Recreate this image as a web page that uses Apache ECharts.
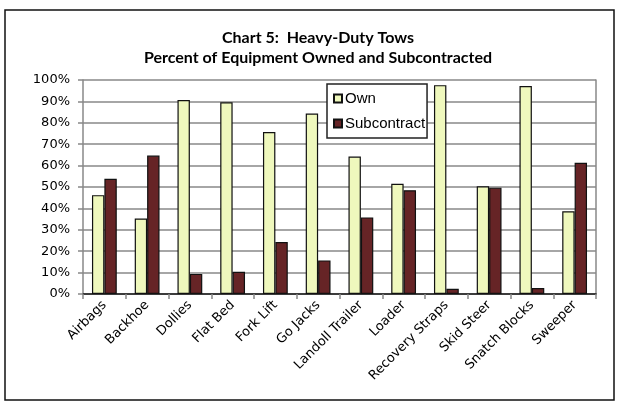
<!DOCTYPE html>
<html>
<head>
<meta charset="utf-8">
<script src="https://cdn.jsdelivr.net/npm/echarts@6/dist/echarts.min.js"></script>
<style>
  html, body { margin: 0; padding: 0; background: #fff; }
  #chart { width: 621px; height: 403px; }
</style>
</head>
<body>
<div id="chart"></div>
<script>
// Equipment categories for heavy-duty tows
const categories = ['Airbags', 'Backhoe', 'Dollies', 'Flat Bed', 'Fork Lift', 'Go Jacks',
  'Landoll Trailer', 'Loader', 'Recovery Straps', 'Skid Steer', 'Snatch Blocks', 'Sweeper'];
// Share of equipment owned (%)
const ownValues = [46.2, 35.3, 90.6, 89.6, 75.7, 84.3, 64.2, 51.5, 97.6, 50.3, 97.2, 38.7];
// Share of equipment subcontracted (%)
const subcontractValues = [53.8, 64.7, 9.4, 10.4, 24.3, 15.7, 35.8, 48.5, 2.4, 49.7, 2.8, 61.3];
// Value axis ticks
const yTicks = { min: 0, max: 100, interval: 10 };

const chart = echarts.init(document.getElementById('chart'));
const labelFont = 'DejaVu Sans';

chart.setOption({
  animation: false,
  title: {
    text: 'Chart 5:  Heavy-Duty Tows\nPercent of Equipment Owned and Subcontracted',
    left: 313,
    textAlign: 'center',
    top: 23,
    textStyle: {
      fontFamily: 'Lato',
      fontWeight: 'bold',
      fontSize: 16,
      lineHeight: 20,
      color: '#000'
    }
  },
  graphic: [{
    type: 'rect',
    shape: { x: 5, y: 10, width: 609, height: 390 },
    style: { fill: 'none', stroke: '#111', lineWidth: 1.5 },
    silent: true
  }],
  legend: {
    orient: 'vertical',
    left: 327,
    top: 84,
    itemWidth: 8,
    itemHeight: 8,
    itemGap: 10,
    padding: [7, 2, 7, 6],
    borderColor: '#222',
    borderWidth: 1.5,
    backgroundColor: '#fff',
    icon: 'rect',
    textStyle: { fontFamily: 'Liberation Sans', fontSize: 15, color: '#000', padding: [0, 0, 0, -2] },
    data: ['Own', 'Subcontract']
  },
  grid: { left: 83, right: 25, top: 80, bottom: 109 },
  xAxis: [{
    type: 'category',
    data: categories,
    axisLine: { lineStyle: { color: '#888', width: 1.5 } },
    axisTick: { show: true, length: 5, lineStyle: { color: '#888', width: 1.5 } },
    axisLabel: {
      rotate: 45,
      interval: 0,
      margin: 9,
      fontFamily: labelFont,
      fontSize: 13,
      color: '#000'
    }
  }, {
    type: 'category',
    position: 'top',
    data: categories,
    axisLine: { lineStyle: { color: '#222', width: 1.5 } },
    axisTick: { show: false },
    axisLabel: { show: false }
  }],
  yAxis: [{
    type: 'value',
    min: yTicks.min,
    max: yTicks.max,
    interval: yTicks.interval,
    axisLine: { show: true, lineStyle: { color: '#888', width: 1.5 } },
    axisTick: { show: true, length: 5, lineStyle: { color: '#888', width: 1.5 } },
    splitLine: { show: true, lineStyle: { color: '#888', width: 1.5 } },
    axisLabel: {
      formatter: '{value}%',
      margin: 13,
      fontFamily: labelFont,
      fontSize: 13,
      color: '#000'
    }
  }, {
    type: 'value',
    position: 'right',
    min: yTicks.min,
    max: yTicks.max,
    interval: yTicks.interval,
    axisLine: { show: true, lineStyle: { color: '#888', width: 1.5 } },
    axisTick: { show: false },
    axisLabel: { show: false },
    splitLine: { show: false }
  }],
  series: [{
    name: 'Own',
    type: 'bar',
    data: ownValues,
    barGap: '0%',
    barCategoryGap: '42%',
    itemStyle: { color: '#EFF8BD', borderColor: '#111', borderWidth: 1.2 }
  }, {
    name: 'Subcontract',
    type: 'bar',
    data: subcontractValues,
    barGap: '0%',
    barCategoryGap: '42%',
    itemStyle: { color: '#662426', borderColor: '#111', borderWidth: 1.2 }
  }]
});
</script>
</body>
</html>
